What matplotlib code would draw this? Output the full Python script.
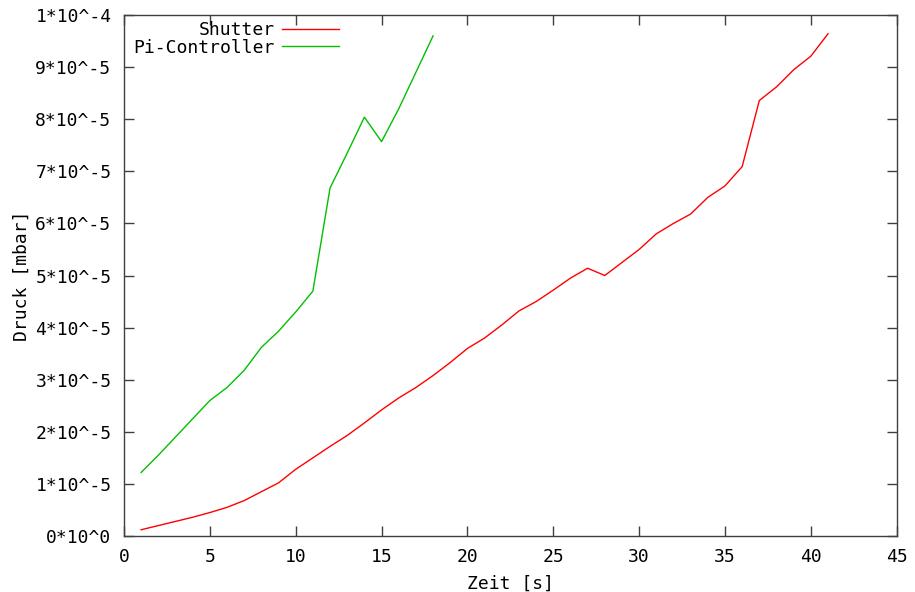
import matplotlib.pyplot as plt
import numpy as np

# Druckverlauf: Shutter vs. Pi-Controller
shutter_t = [1, 2, 3, 4, 5, 6, 7, 8, 9, 10, 11, 12, 13, 14, 15, 16, 17, 18, 19, 20,
             21, 22, 23, 24, 25, 26, 27, 28, 29, 30, 31, 32, 33, 34, 35, 36, 37, 38, 39, 40, 41]
shutter_p = [0.12, 0.20, 0.28, 0.36, 0.45, 0.55, 0.68, 0.85, 1.02, 1.28, 1.50, 1.72, 1.93, 2.17,
             2.42, 2.65, 2.85, 3.08, 3.33, 3.60, 3.80, 4.05, 4.32, 4.50, 4.72, 4.95, 5.14, 5.00,
             5.25, 5.50, 5.80, 6.00, 6.18, 6.50, 6.72, 7.09, 8.36, 8.62, 8.95, 9.21, 9.64]

pi_t = [1, 2, 3, 4, 5, 6, 7, 8, 9, 10, 11, 12, 13, 14, 15, 16, 17, 18]
pi_p = [1.22, 1.55, 1.90, 2.25, 2.60, 2.85, 3.18, 3.62, 3.93, 4.30, 4.70, 6.68, 7.35, 8.04,
        7.57, 8.20, 8.90, 9.60]

yticks = [0, 1, 2, 3, 4, 5, 6, 7, 8, 9, 10]
ylabels = ["0*10^0"] + [str(i) + "*10^-5" for i in range(1, 10)] + ["1*10^-4"]
xticks = [0, 5, 10, 15, 20, 25, 30, 35, 40, 45]

plt.rcParams['font.family'] = ['DejaVu Sans Mono']

fig = plt.figure(figsize=(9.15, 5.92), dpi=100)
ax = fig.add_axes([0.1355, 0.0946, 0.8445, 0.880])

ax.plot(shutter_t, np.array(shutter_p) * 1e-5, color="#ff0000", linewidth=1, label="Shutter")
ax.plot(pi_t, np.array(pi_p) * 1e-5, color="#00c000", linewidth=1, label="Pi-Controller")

ax.set_xlim(0, 45)
ax.set_ylim(0, 1e-4)
ax.set_xticks(xticks)
ax.set_yticks(np.array(yticks) * 1e-5)
ax.set_yticklabels(ylabels)

ax.tick_params(direction="in", length=7, width=1, top=True, right=True,
               labelsize=13, pad=9, color="#404040")
for s in ax.spines.values():
    s.set_color("#404040")
    s.set_linewidth(1)

ax.set_xlabel("Zeit [s]", fontsize=13, labelpad=6)
ax.set_ylabel("Druck [mbar]", fontsize=13, labelpad=3)

ax.legend(loc="upper left", frameon=False, markerfirst=False, fontsize=13,
          handlelength=3.2, handletextpad=0.4, borderaxespad=0.1, labelspacing=-0.05,
          bbox_to_anchor=(0.0, 1.005))

fig.savefig("out.png", dpi=100)
